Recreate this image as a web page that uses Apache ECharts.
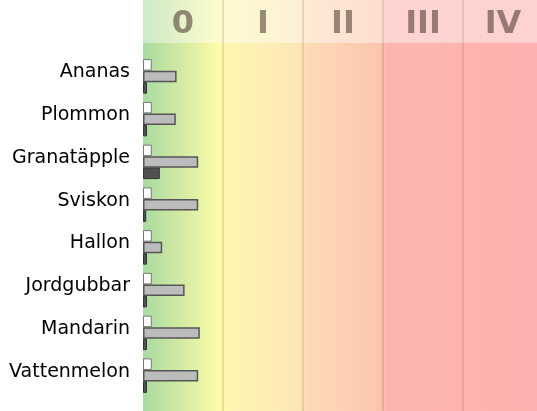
<!DOCTYPE html>
<html>
<head>
<meta charset="utf-8">
<script src="https://cdn.jsdelivr.net/npm/echarts@6/dist/echarts.min.js"></script>
<style>
html,body{margin:0;padding:0;background:#fff;}
#chart{width:537px;height:411px;}
</style>
</head>
<body>
<div id="chart"></div>
<script>
// kategorier och klasser
var fruits = ['Ananas', 'Plommon', 'Granatäpple', 'Sviskon', 'Hallon', 'Jordgubbar', 'Mandarin', 'Vattenmelon'];
var classLabels = ['0', 'I', 'II', 'III', 'IV'];
// värden, 1 = en klass
var whiteValues = [0.11, 0.11, 0.11, 0.11, 0.11, 0.11, 0.11, 0.11];
var grayValues = [0.42, 0.41, 0.69, 0.69, 0.24, 0.52, 0.71, 0.69];
var darkValues = [0.05, 0.05, 0.21, 0.04, 0.05, 0.05, 0.05, 0.05];

var myChart = echarts.init(document.getElementById('chart'));

var option = {
	animation: false,
	grid: { left: 143, top: 55, right: -6, bottom: 14, outerBoundsMode: 'none' },
	xAxis: [{
		type: 'value', min: 0, max: classLabels.length,
		show: false
	}, {
		type: 'category', data: classLabels, position: 'top',
		axisLine: { show: false }, axisTick: { show: false }, splitLine: { show: false },
		axisLabel: {
			margin: 14, fontSize: 32, fontWeight: 'bold',
			fontFamily: 'DejaVu Sans', color: 'rgba(60,40,30,0.52)'
		}
	}],
	yAxis: {
		type: 'category', data: fruits, inverse: true,
		axisLine: { show: false }, axisTick: { show: false },
		axisLabel: {
			margin: 13, fontSize: 19, fontFamily: 'DejaVu Sans', color: '#000',
			verticalAlign: 'bottom', lineHeight: 8
		}
	},
	series: [{
		type: 'bar', data: whiteValues, barWidth: 11.5, barGap: '0%',
		itemStyle: { color: '#fff', borderColor: '#777', borderWidth: 1 }
	}, {
		type: 'bar', data: grayValues, barWidth: 11.5, barGap: '0%',
		itemStyle: { color: '#bcbcbc', borderColor: '#555', borderWidth: 1.5 }
	}, {
		type: 'bar', data: darkValues, barWidth: 11.5, barGap: '0%',
		itemStyle: { color: '#505050', borderColor: '#333', borderWidth: 1 }
	}]
};
myChart.setOption(option);

// bakgrund: färgskala och klassgränser
var xs = [];
for (var i = 0; i <= classLabels.length; i++) {
	xs.push(myChart.convertToPixel({ xAxisIndex: 0 }, i));
}
var h = 411;
var elements = [{
	type: 'rect', z: -10, silent: true,
	shape: { x: xs[0], y: 0, width: xs[xs.length - 1] - xs[0], height: h },
	style: {
		fill: new echarts.graphic.LinearGradient(0, 0, 1, 0, [
			{ offset: 0, color: '#a8dba2' },
			{ offset: 0.1, color: '#d6eaa3' },
			{ offset: 0.19, color: '#fdfca8' },
			{ offset: 0.21, color: '#fef6b0' },
			{ offset: 0.39, color: '#fde6b8' },
			{ offset: 0.41, color: '#fddbb6' },
			{ offset: 0.59, color: '#fcc6ae' },
			{ offset: 0.61, color: '#fdb4ae' },
			{ offset: 1, color: '#fdb1b0' }
		])
	}
}, {
	type: 'rect', z: -9, silent: true,
	shape: { x: xs[0], y: 0, width: xs[xs.length - 1] - xs[0], height: 43 },
	style: { fill: 'rgba(255,255,255,0.42)' }
}];
for (var j = 1; j < xs.length - 1; j++) {
	elements.push({
		type: 'line', z: -8, silent: true,
		shape: { x1: xs[j], y1: 0, x2: xs[j], y2: h },
		style: { stroke: 'rgba(160,120,100,0.22)', lineWidth: 2 }
	});
}
myChart.setOption({ graphic: elements });
</script>
</body>
</html>
